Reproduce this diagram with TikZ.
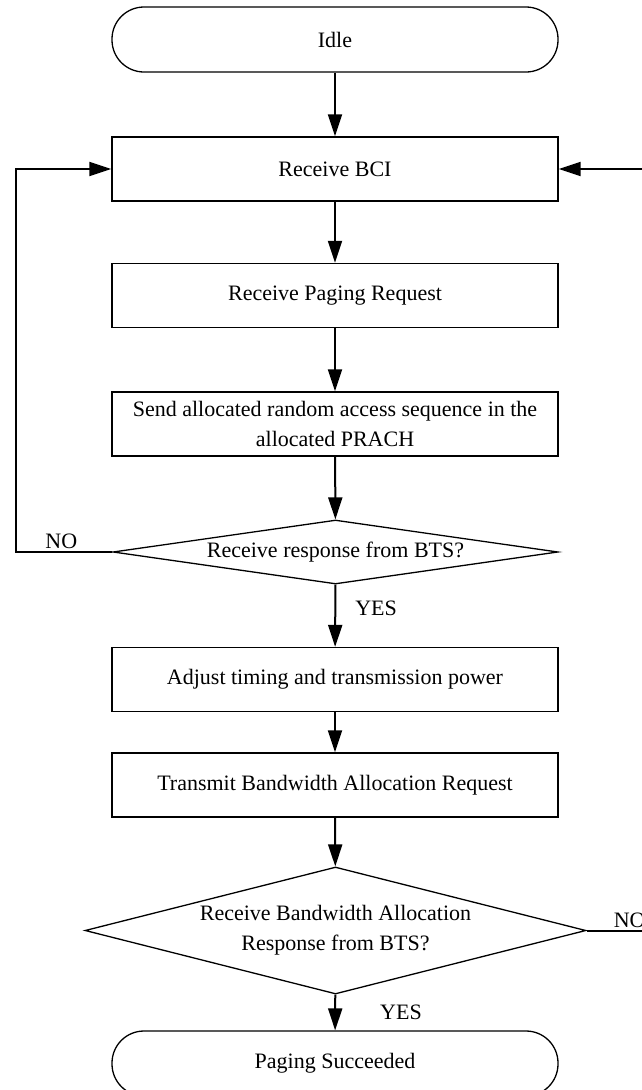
\documentclass[tikz,border=0pt]{standalone}
\usepackage{fontspec}
\setmainfont{Liberation Serif}
\usetikzlibrary{arrows.meta,positioning,shapes.geometric}

\tikzset{
  base/.style={draw,line width=1.3pt,font=\fontsize{22}{30}\selectfont,align=center,inner sep=0pt},
  proc/.style={base,rectangle,minimum width=446pt,minimum height=64pt},
  term/.style={base,rectangle,rounded corners=32pt,minimum width=446pt,minimum height=65pt},
  test/.style={base,diamond},
  flow/.style={line width=2pt,-{Triangle[length=22pt,width=14pt]}},
  lbl/.style={font=\fontsize{22}{26}\selectfont,inner sep=0pt}
}

\begin{document}
\begin{tikzpicture}[x=1pt,y=-1pt]
\useasboundingbox (0,0) rectangle (642,1090);
% nodes
\node[term] (idle) at (335,39.5){Idle};
\node[proc] (bci) at (335,169){Receive BCI};
\node[proc] (page) at (335,295.5){Receive Paging Request};
\node[proc] (send) at (335,424){Send allocated random access sequence in the\\allocated PRACH};
\node[test,aspect=7,minimum width=445pt,minimum height=64pt] (dec1) at (335.5,552){Receive response from BTS?};
\node[proc] (adjust) at (335,679.5){Adjust timing and transmission power};
\node[proc] (trans) at (335,785){Transmit Bandwidth Allocation Request};
\node[test,aspect=3.9,minimum width=501pt,minimum height=127pt] (dec2) at (335.5,930.5){Receive Bandwidth Allocation\\Response from BTS?};
\node[term] (done) at (335,1063.5){Paging Succeeded};
\coordinate (lx) at (16,0);
\coordinate (rx) at (652,0);
% main flow
\draw[flow] (idle) -- (bci);
\draw[flow] (bci) -- (page);
\draw[flow] (page) -- (send);
\draw[flow] (send) -- (dec1);
\draw[flow] (dec1) -- node[lbl,right,xshift=19pt,yshift=7pt]{YES} (adjust);
\draw[flow] (adjust) -- (trans);
\draw[flow] (trans) -- (dec2);
\draw[flow] (dec2) -- node[lbl,right,xshift=44pt]{YES} (done);
% loops back
\draw[flow] (dec1.west) -- (dec1.west -| lx) |- (bci.west);
\draw[flow] (dec2.east) -- (dec2.east -| rx) |- (bci.east);
\node[lbl,above left=3pt and 35pt of dec1.west] (no1){NO};
\node[lbl,above right=3pt and 27pt of dec2.east] (no2){NO};
\end{tikzpicture}
\end{document}
